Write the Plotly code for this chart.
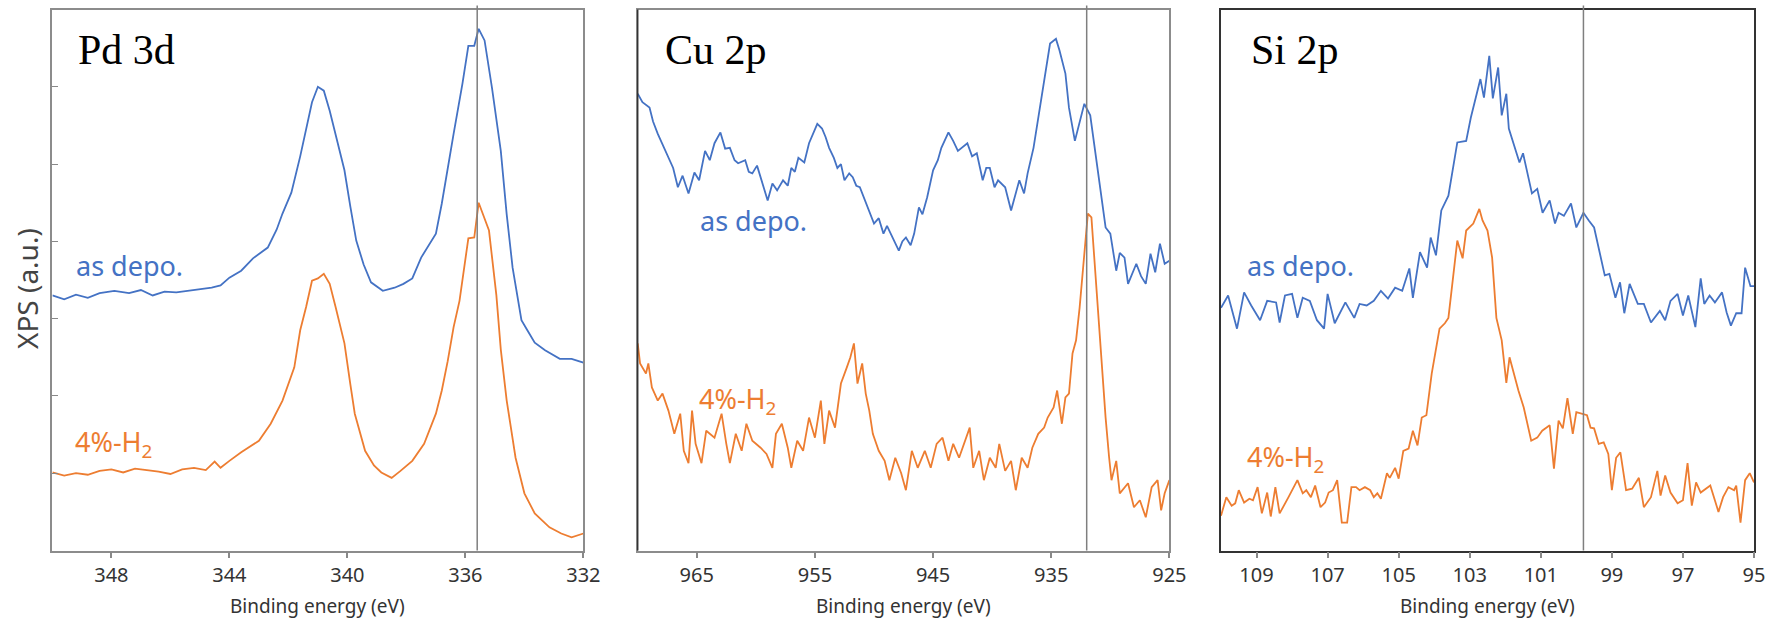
import plotly.graph_objects as go

# ---------------- data ----------------
# Pd 3d
pd_as_E = [350.0, 349.6, 349.2, 348.8, 348.4, 347.9, 347.4, 347.0, 346.6, 346.2, 345.8, 345.4, 345.0, 344.6, 344.3,
           344.0, 343.6, 343.2, 342.7, 342.4, 342.2, 341.9, 341.6, 341.4, 341.2, 341.0, 340.8, 340.6, 340.35, 340.1,
           339.9, 339.7, 339.45, 339.2, 338.8, 338.4, 338.1, 337.8, 337.5, 337.0, 336.8, 336.6, 336.4, 336.1, 335.9,
           335.7, 335.55, 335.35, 335.1, 334.8, 334.6, 334.4, 334.1, 333.9, 333.65, 333.3, 333.0, 332.8, 332.4, 332.0]
pd_as_I = [3.30, 3.25, 3.31, 3.27, 3.33, 3.36, 3.33, 3.37, 3.30, 3.35, 3.34, 3.36, 3.38, 3.40, 3.43,
           3.53, 3.62, 3.78, 3.92, 4.15, 4.36, 4.63, 5.10, 5.43, 5.80, 6.00, 5.95, 5.69, 5.30, 4.92,
           4.45, 4.01, 3.70, 3.47, 3.36, 3.40, 3.45, 3.52, 3.79, 4.10, 4.49, 4.95, 5.39, 6.04, 6.53,
           6.53, 6.75, 6.60, 5.99, 5.17, 4.35, 3.66, 2.98, 2.85, 2.69, 2.59, 2.52, 2.48, 2.48, 2.43]
pd_h2_E = [350.0, 349.6, 349.2, 348.8, 348.4, 348.0, 347.6, 347.2, 346.8, 346.4, 346.0, 345.6, 345.2, 344.8, 344.5,
           344.3, 344.0, 343.6, 343.0, 342.6, 342.2, 341.8, 341.6, 341.4, 341.2, 341.0, 340.8, 340.6, 340.4, 340.1,
           339.9, 339.75, 339.4, 339.1, 338.85, 338.5, 338.2, 337.8, 337.4, 337.0, 336.8, 336.6, 336.4, 336.2, 335.9,
           335.7, 335.55, 335.35, 335.2, 334.95, 334.8, 334.6, 334.3, 334.0, 333.65, 333.15, 332.75, 332.4, 332.0]
pd_h2_I = [1.01, 0.97, 1.00, 0.98, 1.03, 1.05, 1.01, 1.06, 1.04, 1.02, 0.99, 1.05, 1.07, 1.04, 1.15,
           1.07, 1.16, 1.27, 1.42, 1.64, 1.94, 2.37, 2.85, 3.15, 3.49, 3.52, 3.58, 3.45, 3.15, 2.68,
           2.15, 1.77, 1.29, 1.10, 1.01, 0.94, 1.03, 1.16, 1.38, 1.77, 2.07, 2.45, 2.89, 3.23, 4.04,
           4.05, 4.50, 4.30, 4.14, 3.30, 2.60, 1.94, 1.20, 0.74, 0.48, 0.30, 0.22, 0.17, 0.22]

# Cu 2p
cu_as_E = [970.0, 969.6, 969.0, 968.7, 968.3, 967.9, 967.4, 967.0, 966.6, 966.2, 965.7, 965.2, 964.8, 964.3,
           963.9, 963.5, 963.0, 962.6, 962.2, 961.8, 961.5, 960.9, 960.6, 960.3, 959.9, 959.6, 959.0, 958.6,
           958.2, 957.7, 957.3, 957.0, 956.7, 956.4, 955.9, 955.5, 954.8, 954.4, 954.1, 953.8, 953.4, 953.1,
           952.8, 952.5, 952.1, 951.8, 951.5, 951.2, 950.8, 950.5, 950.0, 949.6, 949.2, 948.9, 948.6, 948.2,
           947.9, 947.6, 947.3, 946.9, 946.6, 946.2, 945.9, 945.5, 945.0, 944.6, 944.3, 943.7, 943.3, 942.9,
           942.5, 942.1, 941.7, 941.3, 940.8, 940.5, 940.2, 939.8, 939.5, 938.9, 938.4, 937.7, 937.3, 937.0,
           936.5, 936.0, 935.6, 935.1, 934.6, 934.3, 933.8, 933.5, 933.0, 932.7, 932.2, 931.7, 931.2, 930.7,
           930.4, 930.0, 929.5, 929.2, 928.8, 928.5, 927.8, 927.4, 927.0, 926.6, 926.2, 925.8, 925.4, 925.0]
cu_as_I = [5.91, 5.80, 5.73, 5.55, 5.39, 5.25, 5.08, 4.95, 4.70, 4.85, 4.62, 4.89, 4.79, 5.17,
           5.05, 5.27, 5.41, 5.20, 5.21, 5.05, 5.01, 5.05, 4.90, 4.88, 4.98, 4.83, 4.53, 4.75,
           4.66, 4.79, 4.72, 4.95, 4.90, 5.08, 5.02, 5.27, 5.52, 5.46, 5.35, 5.21, 5.08, 4.95,
           5.00, 4.79, 4.88, 4.83, 4.72, 4.70, 4.55, 4.44, 4.23, 4.30, 4.10, 4.20, 4.10, 3.98,
           3.88, 4.00, 4.05, 3.95, 4.10, 4.44, 4.35, 4.57, 4.92, 5.05, 5.21, 5.41, 5.30, 5.17,
           5.22, 5.27, 5.10, 5.14, 4.79, 4.95, 4.95, 4.70, 4.79, 4.70, 4.40, 4.79, 4.62, 4.88,
           5.21, 5.69, 6.08, 6.56, 6.62, 6.47, 6.17, 5.73, 5.30, 5.47, 5.78, 5.63, 5.08, 4.57,
           4.18, 4.10, 3.62, 3.85, 3.79, 3.45, 3.71, 3.55, 3.45, 3.84, 3.60, 3.97, 3.71, 3.75]
cu_h2_E = [970.0, 969.8, 969.3, 969.1, 968.8, 968.3, 967.9, 967.4, 966.9, 966.4, 966.1, 965.7, 965.4, 965.1,
           964.6, 964.2, 963.5, 962.9, 962.5, 962.2, 961.7, 961.2, 960.8, 960.3, 959.6, 959.1, 958.6, 958.3,
           957.8, 957.3, 957.0, 956.5, 956.0, 955.5, 955.0, 954.5, 954.2, 953.8, 953.3, 952.8, 952.3, 952.0,
           951.7, 951.4, 951.0, 950.7, 950.4, 950.1, 949.6, 949.1, 948.7, 948.2, 947.7, 947.3, 946.8, 946.3,
           945.7, 945.2, 944.7, 944.2, 943.7, 943.3, 942.8, 942.3, 941.9, 941.6, 941.1, 940.7, 940.2, 939.7,
           939.4, 938.9, 938.4, 938.0, 937.5, 937.0, 936.6, 936.1, 935.6, 935.3, 934.8, 934.5, 934.1, 933.8,
           933.5, 933.2, 932.9, 932.6, 932.3, 931.9, 931.6, 931.2, 931.1, 930.7, 930.4, 930.1, 929.9, 929.5,
           929.2, 928.5, 928.0, 927.5, 927.0, 926.5, 926.0, 925.7, 925.4, 925.0]
cu_h2_I = [2.68, 2.42, 2.29, 2.42, 2.11, 1.94, 2.03, 1.81, 1.51, 1.77, 1.29, 1.13, 1.81, 1.38,
           1.13, 1.55, 1.46, 1.77, 1.38, 1.13, 1.51, 1.29, 1.64, 1.42, 1.33, 1.25, 1.07, 1.51,
           1.64, 1.33, 1.07, 1.42, 1.29, 1.72, 1.46, 1.94, 1.38, 1.81, 1.59, 2.16, 2.37, 2.50,
           2.68, 2.16, 2.42, 2.03, 1.81, 1.51, 1.29, 1.16, 0.91, 1.20, 1.00, 0.78, 1.29, 1.07,
           1.29, 1.07, 1.38, 1.46, 1.16, 1.38, 1.20, 1.42, 1.59, 1.07, 1.29, 0.91, 1.20, 1.07,
           1.38, 1.03, 1.16, 0.78, 1.20, 1.07, 1.33, 1.51, 1.59, 1.72, 1.85, 2.07, 1.64, 1.98,
           2.03, 2.55, 2.72, 3.14, 3.66, 4.36, 4.31, 3.40, 3.23, 2.37, 1.72, 1.20, 0.91, 1.16,
           0.74, 0.87, 0.56, 0.65, 0.43, 0.82, 0.91, 0.52, 0.74, 0.91]

# Si 2p
si_as_E = [110.0, 109.8, 109.55, 109.35, 109.15, 108.9, 108.7, 108.45, 108.35, 108.2, 108.0, 107.85, 107.7,
           107.5, 107.3, 107.1, 107.0, 106.8, 106.5, 106.25, 106.1, 105.9, 105.7, 105.5, 105.3, 105.1, 104.9,
           104.7, 104.6, 104.4, 104.2, 104.1, 103.95, 103.8, 103.6, 103.35, 103.1, 102.97, 102.7, 102.6,
           102.45, 102.35, 102.2, 102.1, 101.97, 101.9, 101.6, 101.5, 101.25, 101.1, 100.95, 100.75, 100.6,
           100.5, 100.35, 100.15, 100.0, 99.8, 99.65, 99.5, 99.2, 99.07, 98.9, 98.77, 98.65, 98.5, 98.27,
           98.1, 97.9, 97.65, 97.5, 97.35, 97.15, 97.0, 96.85, 96.65, 96.5, 96.4, 96.25, 96.1, 95.9, 95.77,
           95.65, 95.5, 95.35, 95.25, 95.1, 95.0]
si_as_I = [3.14, 3.30, 2.87, 3.34, 3.17, 2.98, 3.23, 3.21, 2.95, 3.30, 3.32, 3.01, 3.27,
           3.23, 2.98, 2.87, 3.32, 2.94, 3.21, 3.01, 3.19, 3.17, 3.23, 3.36, 3.26, 3.40, 3.36,
           3.65, 3.27, 3.86, 3.66, 4.05, 3.82, 4.40, 4.59, 5.28, 5.30, 5.60, 6.10, 5.86,
           6.40, 5.85, 6.25, 5.63, 5.91, 5.46, 5.02, 5.14, 4.62, 4.68, 4.37, 4.53, 4.23,
           4.37, 4.33, 4.49, 4.18, 4.37, 4.27, 4.18, 3.56, 3.58, 3.27, 3.47, 3.07, 3.45, 3.19,
           3.19, 2.95, 3.10, 2.98, 3.23, 3.32, 3.04, 3.30, 2.89, 3.52, 3.19, 3.30, 3.21, 3.34, 3.08,
           2.91, 3.07, 3.07, 3.66, 3.42, 3.42]
si_h2_E = [110.0, 109.85, 109.7, 109.6, 109.5, 109.35, 109.2, 109.1, 108.97, 108.85, 108.7, 108.6, 108.47,
           108.35, 108.1, 107.85, 107.7, 107.6, 107.47, 107.35, 107.2, 107.07, 106.97, 106.85, 106.73, 106.6,
           106.45, 106.33, 106.2, 106.1, 105.95, 105.8, 105.7, 105.6, 105.5, 105.33, 105.25, 105.1, 105.0,
           104.87, 104.72, 104.6, 104.47, 104.35, 104.22, 104.07, 103.85, 103.7, 103.6, 103.5, 103.35, 103.2,
           103.1, 102.9, 102.73, 102.64, 102.5, 102.37, 102.25, 102.1, 101.97, 101.88, 101.63, 101.48, 101.27,
           101.1, 100.96, 100.75, 100.63, 100.5, 100.38, 100.25, 100.1, 100.0, 99.84, 99.7, 99.6, 99.5, 99.37,
           99.23, 99.1, 99.0, 98.88, 98.76, 98.6, 98.43, 98.24, 98.1, 97.9, 97.72, 97.63, 97.5, 97.35, 97.15,
           97.0, 96.87, 96.75, 96.63, 96.5, 96.23, 96.0, 95.87, 95.72, 95.56, 95.5, 95.38, 95.25, 95.12, 95.0]
si_h2_I = [0.45, 0.69, 0.58, 0.61, 0.78, 0.62, 0.67, 0.65, 0.82, 0.48, 0.75, 0.44, 0.82,
           0.48, 0.69, 0.91, 0.74, 0.78, 0.69, 0.84, 0.56, 0.62, 0.75, 0.78, 0.91, 0.36,
           0.36, 0.82, 0.82, 0.78, 0.82, 0.78, 0.69, 0.74, 0.67, 1.00, 0.94, 1.07, 0.93,
           1.29, 1.32, 1.55, 1.36, 1.72, 1.75, 2.29, 2.87, 2.94, 3.01, 3.40, 4.01, 3.78,
           4.14, 4.23, 4.42, 4.27, 4.14, 3.79, 3.01, 2.72, 2.17, 2.50, 2.07, 1.85, 1.42,
           1.46, 1.55, 1.62, 1.06, 1.68, 1.58, 1.97, 1.51, 1.79, 1.77, 1.75, 1.59, 1.58, 1.38,
           1.40, 1.25, 0.78, 1.20, 1.27, 0.78, 0.80, 0.94, 0.56, 0.69, 1.03, 0.71, 0.97, 0.75, 0.61,
           0.65, 1.13, 0.58, 0.88, 0.75, 0.84, 0.50, 0.69, 0.82, 0.78, 0.84, 0.36, 0.91, 1.00, 0.88]

panel_titles = ["Pd 3d", "Cu 2p", "Si 2p"]
x_ranges = [(350, 332), (970, 925), (110, 95)]
x_ticks = [[348, 344, 340, 336, 332], [965, 955, 945, 935, 925], [109, 107, 105, 103, 101, 99, 97, 95]]
ref_lines = [335.6, 932.0, 99.8]
y_ticks = [1, 2, 3, 4, 5, 6]
series_names = ["as depo.", "4%-H<sub>2</sub>"]

# ---------------- styling ----------------
W, H = 1768, 622
BLUE = "#4472C4"
ORANGE = "#ED7D31"
SANS = "Noto Sans"

def px(x):
    return x / W

def py(y):
    return 1 - y / H

domains = [(52.4, 583.4), (637.7, 1169.4), (1221, 1754)]
frame_cols = ["#8c8c8c", "#8c8c8c", "#333333"]
top, bottom = 9.5, 550.5

fig = go.Figure()
series = [(pd_as_E, pd_as_I, pd_h2_E, pd_h2_I),
          (cu_as_E, cu_as_I, cu_h2_E, cu_h2_I),
          (si_as_E, si_as_I, si_h2_E, si_h2_I)]

for i, (ea, ia, eh, ih) in enumerate(series):
    xa = "x" if i == 0 else f"x{i+1}"
    ya = "y" if i == 0 else f"y{i+1}"
    fig.add_trace(go.Scatter(x=ea, y=ia, mode="lines", line=dict(color=BLUE, width=1.8),
                             xaxis=xa, yaxis=ya, showlegend=False, hoverinfo="skip"))
    fig.add_trace(go.Scatter(x=eh, y=ih, mode="lines", line=dict(color=ORANGE, width=1.8),
                             xaxis=xa, yaxis=ya, showlegend=False, hoverinfo="skip"))

layout = dict(width=W, height=H, margin=dict(l=0, r=0, t=0, b=0),
              paper_bgcolor="white", plot_bgcolor="white", showlegend=False)

for i in range(3):
    xk = "xaxis" if i == 0 else f"xaxis{i+1}"
    yk = "yaxis" if i == 0 else f"yaxis{i+1}"
    x0, x1 = domains[i]
    layout[xk] = dict(domain=[px(x0), px(x1)], range=list(x_ranges[i]), tickmode="array",
                      tickvals=x_ticks[i], ticks="outside", ticklen=6, tickcolor="#888", tickwidth=1.5,
                      showline=True, linecolor=frame_cols[i], linewidth=1.5, mirror=True,
                      showgrid=False, zeroline=False, automargin=False,
                      tickfont=dict(family=SANS, size=20, color="#333"),
                      anchor="y" if i == 0 else f"y{i+1}")
    layout[yk] = dict(domain=[py(bottom), py(top)], range=[0, 7], showgrid=False, zeroline=False,
                      showline=True, linecolor=frame_cols[i], linewidth=1.5, mirror=True,
                      automargin=False, anchor="x" if i == 0 else f"x{i+1}",
                      showticklabels=False,
                      ticks="inside" if i == 0 else "", tickvals=y_ticks, ticklen=6, tickcolor="#888")

fig.update_layout(**layout)

shapes = []
for i in range(3):
    xa = "x" if i == 0 else f"x{i+1}"
    shapes.append(dict(type="line", xref=xa, yref="paper", x0=ref_lines[i], x1=ref_lines[i],
                       y0=py(bottom), y1=py(5.5), line=dict(color="#7f7f7f", width=1.5)))
# darker left edge of the middle panel
shapes.append(dict(type="line", xref="paper", yref="paper", x0=px(637.7), x1=px(637.7),
                   y0=py(bottom), y1=py(top), line=dict(color="#333333", width=1.5)))
fig.update_layout(shapes=shapes)

ann = []
# panel titles
title_pos = [76, 663, 1249]
for i in range(3):
    ann.append(dict(text=panel_titles[i], xref="paper", yref="paper", x=px(title_pos[i]), y=py(50),
                    xanchor="left", yanchor="middle", showarrow=False,
                    font=dict(family="Liberation Serif", size=42, color="black")))
# series labels
as_pos = [(74, 266), (698, 220), (1245, 265)]
h2_pos = [(73, 443), (697, 400), (1245, 459)]
for i in range(3):
    ann.append(dict(text=series_names[0], xref="paper", yref="paper", x=px(as_pos[i][0]), y=py(as_pos[i][1]),
                    xanchor="left", yanchor="middle", showarrow=False,
                    font=dict(family=SANS, size=27, color=BLUE)))
    ann.append(dict(text=series_names[1], xref="paper", yref="paper", x=px(h2_pos[i][0]), y=py(h2_pos[i][1]),
                    xanchor="left", yanchor="middle", showarrow=False,
                    font=dict(family=SANS, size=27, color=ORANGE)))
# axis titles
for i in range(3):
    x0, x1 = domains[i]
    ann.append(dict(text="Binding energy (eV)", xref="paper", yref="paper", x=px((x0 + x1) / 2), y=py(606),
                    xanchor="center", yanchor="middle", showarrow=False,
                    font=dict(family=SANS, size=19, color="#333")))
ann.append(dict(text="XPS (a.u.)", xref="paper", yref="paper", x=px(27), y=py(289), textangle=-90,
                xanchor="center", yanchor="middle", showarrow=False,
                font=dict(family=SANS, size=28, color="#444")))
fig.update_layout(annotations=ann)

fig.write_html("out.html")
